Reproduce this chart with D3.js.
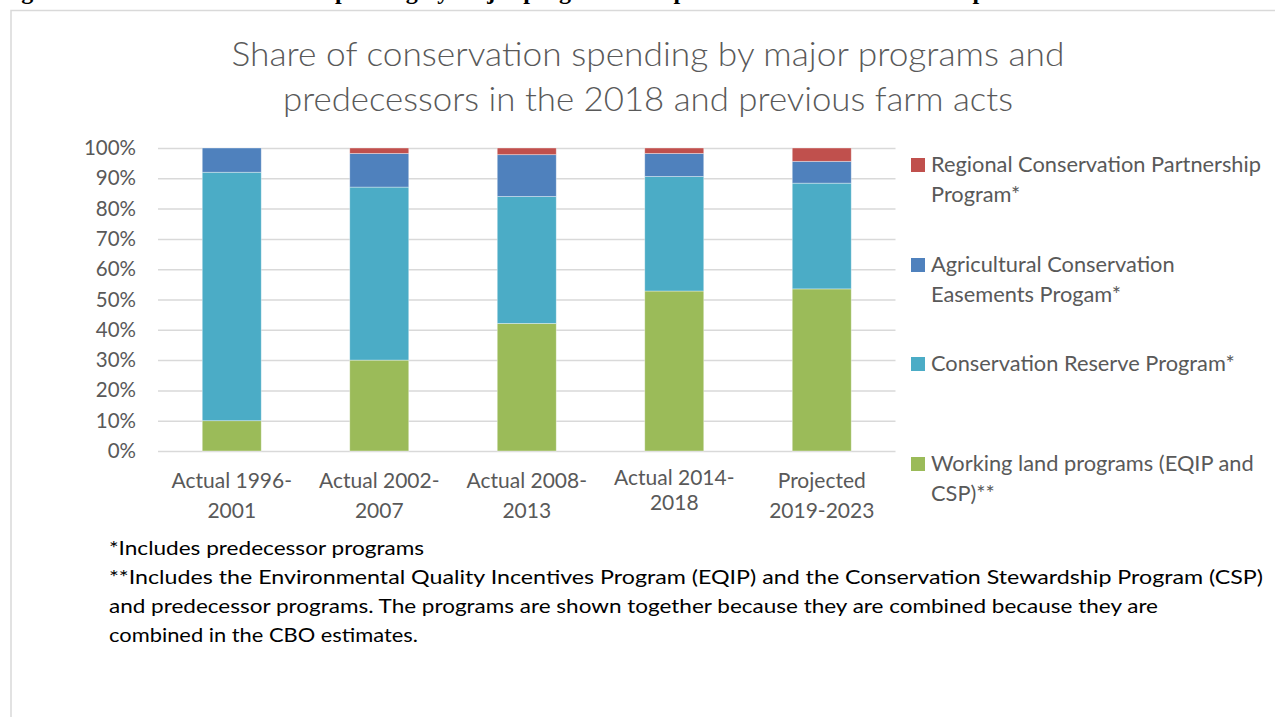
<!DOCTYPE html>
<html>
<head>
    <meta charset="UTF-8">
    <title>Share of conservation spending</title>
    <script src="https://d3js.org/d3.v7.min.js"></script>
    <style>
        body { margin: 0; padding: 0; background: #fff; }
        svg { display: block; }
        .chart-text { font-family: Lato, "Open Sans", sans-serif; fill: #595959; }
        .note { font-family: Lato, "Open Sans", sans-serif; fill: #000; font-size: 20px; }
    </style>
</head>
<body>
<svg id="chart" width="1275" height="717"></svg>
<script>
    // 数据
    const categories = [
        ["Actual 1996-", "2001"],
        ["Actual 2002-", "2007"],
        ["Actual 2008-", "2013"],
        ["Actual 2014-", "2018"],
        ["Projected", "2019-2023"]
    ];
    const seriesKeys = ["working", "crp", "aces", "rcpp"];
    const seriesNames = {
        rcpp: ["Regional Conservation Partnership", "Program*"],
        aces: ["Agricultural Conservation", "Easements Progam*"],
        crp: ["Conservation Reserve Program*"],
        working: ["Working land programs (EQIP and", "CSP)**"]
    };
    const workingLand = [10, 30, 42.1, 52.8, 53.5];
    const reserve = [82, 57.1, 41.9, 37.8, 34.9];
    const easements = [8, 11.1, 13.8, 7.6, 7.2];
    const regional = [0, 1.8, 2.2, 1.8, 4.4];
    const yTicks = [0, 10, 20, 30, 40, 50, 60, 70, 80, 90, 100];
    const notes = [
        "*Includes predecessor programs",
        "**Includes the Environmental Quality Incentives Program (EQIP) and the Conservation Stewardship Program (CSP)",
        "and predecessor programs. The programs are shown together because they are combined because they are",
        "combined in the CBO estimates."
    ];
    const noteWidths = [315, 1154, 1049, 309];

    const colors = { rcpp: "#C0504D", aces: "#4F81BD", crp: "#4BACC6", working: "#9BBB59" };

    const rows = categories.map((c, i) => ({
        cat: c.join(" "),
        working: workingLand[i], crp: reserve[i], aces: easements[i], rcpp: regional[i]
    }));

    const svg = d3.select("#chart");

    // 页面顶部被裁掉的标题（只露出下伸部分）
    svg.append("text")
        .attr("x", 0).attr("y", -1)
        .attr("font-family", "'Liberation Serif', 'DejaVu Serif', serif")
        .attr("font-weight", "bold").attr("font-size", 24)
        .text("Figure 3. Share of conservation spending by major programs and predecessors in the 2018 and previous farm acts");

    // 边框
    svg.append("path")
        .attr("d", "M11,717 L11,10.5 L1275,10.5")
        .attr("fill", "none").attr("stroke", "#d9d9d9").attr("stroke-width", 1.5);

    // 标题
    const title = svg.append("text").attr("class", "chart-text")
        .attr("text-anchor", "middle").attr("font-size", 33).attr("font-weight", 300);
    title.append("tspan").attr("x", 648).attr("y", 66)
        .attr("textLength", 833).attr("lengthAdjust", "spacingAndGlyphs")
        .text("Share of conservation spending by major programs and");
    title.append("tspan").attr("x", 648).attr("y", 111)
        .attr("textLength", 730).attr("lengthAdjust", "spacingAndGlyphs")
        .text("predecessors in the 2018 and previous farm acts");

    const plot = { left: 158, right: 895.5, top: 148, bottom: 451 };

    const x = d3.scaleBand()
        .domain(rows.map(d => d.cat))
        .range([plot.left, plot.right])
        .paddingInner(0.6).paddingOuter(0.3);

    const y = d3.scaleLinear().domain([0, 100]).range([plot.bottom, plot.top]);

    // 网格线
    const yAxis = d3.axisLeft(y).tickValues(yTicks)
        .tickSize(-(plot.right - plot.left)).tickPadding(22)
        .tickFormat(d => d + "%");
    const gy = svg.append("g").attr("transform", `translate(${plot.left},0)`).call(yAxis);
    gy.select(".domain").remove();
    gy.selectAll(".tick line").attr("stroke", "#d9d9d9").attr("stroke-width", 1.5);
    gy.selectAll(".tick text").attr("class", "chart-text").attr("font-size", 20.5);

    // 堆叠柱
    const stacked = d3.stack().keys(seriesKeys)(rows);
    svg.append("g").selectAll("g")
        .data(stacked)
        .join("g")
        .attr("fill", d => colors[d.key])
        .selectAll("rect")
        .data(d => d)
        .join("rect")
        .attr("x", d => x(d.data.cat))
        .attr("y", d => y(d[1]))
        .attr("width", x.bandwidth())
        .attr("height", d => y(d[0]) - y(d[1]))
        .attr("stroke", "rgba(255,255,255,0.45)")
        .attr("stroke-width", 0.8);

    // X 轴标签
    const xl = svg.append("g").selectAll("text")
        .data(categories)
        .join("text")
        .attr("class", "chart-text")
        .attr("text-anchor", "middle")
        .attr("font-size", 21);
    xl.each(function(c, i) {
        const cx = x(rows[i].cat) + x.bandwidth() / 2;
        const up = i === 3 ? -3 : 0;
        d3.select(this).append("tspan").attr("x", cx).attr("y", 488 + up).text(c[0]);
        d3.select(this).append("tspan").attr("x", cx).attr("y", 518 + up - (i === 3 ? 5 : 0)).text(c[1]);
    });

    // 图例
    const legendOrder = ["rcpp", "aces", "crp", "working"];
    const legendY = [165, 265, 364, 464];
    legendOrder.forEach((k, i) => {
        const g = svg.append("g");
        g.append("rect")
            .attr("x", 911).attr("y", legendY[i] - 7)
            .attr("width", 14).attr("height", 14)
            .attr("fill", colors[k]);
        const t = g.append("text").attr("class", "chart-text").attr("font-size", 21.8);
        seriesNames[k].forEach((line, j) => {
            t.append("tspan").attr("x", 931).attr("y", legendY[i] + 7 + j * 29.5).text(line);
        });
    });

    // 脚注
    svg.append("g").selectAll("text")
        .data(notes)
        .join("text")
        .attr("class", "note")
        .attr("x", 109)
        .attr("y", (d, i) => 555 + i * 29)
        .attr("textLength", (d, i) => noteWidths[i])
        .attr("lengthAdjust", "spacingAndGlyphs")
        .text(d => d);
</script>
</body>
</html>
